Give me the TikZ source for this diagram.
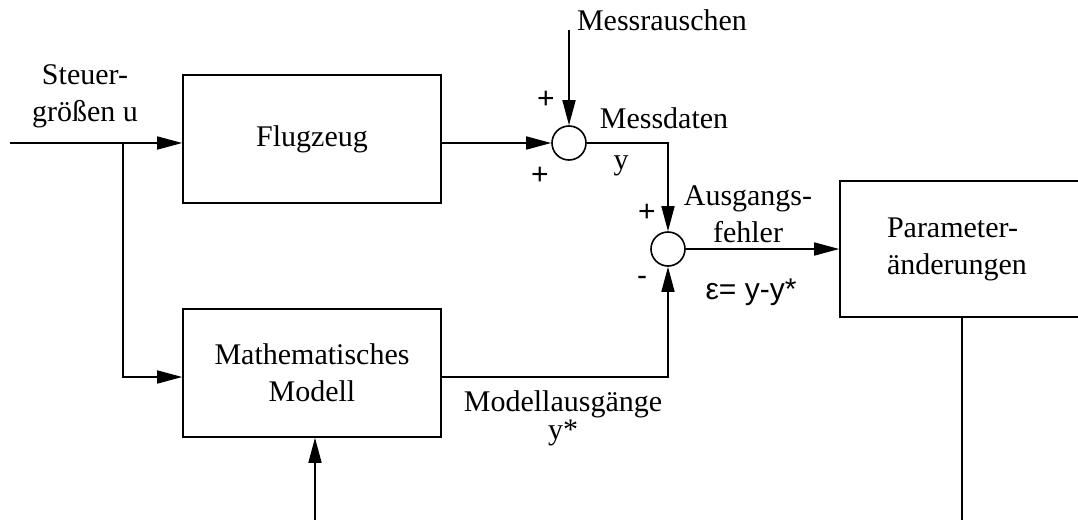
\documentclass[tikz,border=0pt]{standalone}
\usepackage{fontspec}
\setmainfont{Liberation Serif}
\newfontfamily\signfont{Liberation Sans}
\usetikzlibrary{arrows.meta}

\tikzset{
  block/.style={draw, line width=0.8pt, minimum width=129pt, minimum height=64pt, inner sep=0pt, align=center},
  sum/.style={draw, circle, line width=0.8pt, minimum size=17pt, inner sep=0pt},
  sign/.style={font=\signfont\fontsize{15}{18}\selectfont},
  conn/.style={line width=0.8pt, -{Triangle[length=12.5pt,width=6.5pt]}},
}

\begin{document}
\begin{tikzpicture}[x=0.5pt, y=-0.5pt, font=\fontsize{15}{18.5}\selectfont]
\clip (0,0) rectangle (1078,520);

% Bloecke
\node[block] (flugzeug) at (312,139) {Flugzeug};
\node[block] (modell) at (312,373) {Mathematisches\\Modell};
\node[block, minimum height=68pt, text width=83pt, align=left, inner xsep=23.5pt] (param) at (970,249) {Parameter-\\änderungen};

% Summierstellen
\node[sum] (sum1) at (569,143) {};
\node[sum] (sum2) at (668,249) {};

% freie Enden
\coordinate (u) at (10,143);
\coordinate (split) at (123,143);
\coordinate (noise) at (569,30);
\coordinate (pin) at (315,520);
\coordinate (pout) at (962,520);

% Signalfluss
\draw[conn] (u) -- ([yshift=-2pt]flugzeug.west);
\draw[conn] (split) |- ([yshift=-2pt]modell.west);
\draw[conn] ([yshift=-2pt]flugzeug.east) -- (sum1);
\draw[conn] (noise) -- (sum1);
\draw[conn] (sum1) -| (sum2);
\draw[conn] ([yshift=-2pt]modell.east) -| (sum2);
\draw[conn] (sum2) -- (param);
\draw[conn] (pin) -- (pin |- modell.south);
\draw[line width=0.8pt] (param.south -| pout) -- (pout);

% Beschriftungen
\node[align=center] (steuer) at (85,96) {Steuer-\\größen u};
\node (rausch) at (662,20) {Messrauschen};
\node (messd) at (664,118) {Messdaten};
\node (ysig) at (621,166) {y};
\node[align=center] (fehler) at (748,214) {Ausgangs-\\fehler};
\node[sign] (eps) at (751,292) {ε= y-y*};
\node[align=center] (mout) at (563,418) {Modellausgänge\\[-4.5pt]y*};

% Vorzeichen
\node[sign] (p1) at (546,100) {+};
\node[sign] (p2) at (540,176) {+};
\node[sign] (p3) at (647,213) {+};
\node[sign] (m1) at (642,281) {-};
\end{tikzpicture}
\end{document}
